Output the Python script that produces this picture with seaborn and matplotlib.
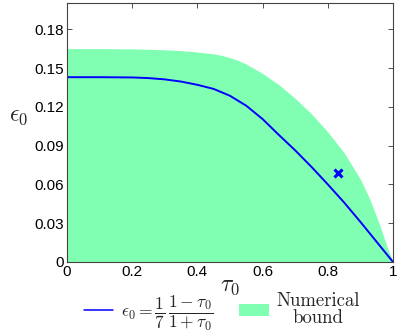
import matplotlib
matplotlib.use("Agg")
import matplotlib.pyplot as plt
import seaborn as sns
import numpy as np
import pandas as pd

# analytic curve
tau_line = [0, 0.1, 0.2, 0.25, 0.3, 0.35, 0.4, 0.45, 0.5, 0.55, 0.6, 0.65,
            0.7, 0.75, 0.8, 0.85, 0.9, 0.95, 1.0]
eps_line = [0.1429, 0.1429, 0.1427, 0.1422, 0.1412, 0.1395, 0.1370, 0.1338,
            0.1285, 0.1208, 0.1105, 0.0982, 0.0863, 0.0735, 0.0600, 0.0460,
            0.0310, 0.0155, 0.0]

# upper edge of the numerical bound region
tau_bound = [0, 0.1, 0.2, 0.25, 0.3, 0.35, 0.4, 0.45, 0.475, 0.5, 0.525, 0.55,
             0.6, 0.65, 0.7, 0.75, 0.8, 0.85, 0.9, 0.93, 0.96, 0.98, 1.0]
eps_bound = [0.1650, 0.1650, 0.1648, 0.1645, 0.1641, 0.1634, 0.1624, 0.1609,
             0.1597, 0.1580, 0.1558, 0.1530, 0.1458, 0.1370, 0.1265, 0.1145,
             0.1005, 0.0845, 0.0640, 0.0480, 0.0280, 0.0130, 0.0]

# single marked point
tau_pt = [0.83]
eps_pt = [0.0686]

xticks = [0, 0.2, 0.4, 0.6, 0.8, 1]
yticks = [0, 0.03, 0.06, 0.09, 0.12, 0.15, 0.18]

sns.set_style("ticks")
plt.rcParams['font.family'] = ['Liberation Sans', 'DejaVu Sans']
plt.rcParams['mathtext.fontset'] = 'cm'

fig = plt.figure(figsize=(3.99, 3.35), dpi=100)
ax = fig.add_axes([0.168, 0.218, 0.817, 0.772])

green = '#80ffb3'
ax.fill_between(tau_bound, 0, eps_bound, color=green, linewidth=0,
                label='Numerical\nbound')
df = pd.DataFrame({'tau': tau_line, 'eps': eps_line})
sns.lineplot(data=df, x='tau', y='eps', color='blue', linewidth=1.4, ax=ax,
             label=r'$\epsilon_0=\dfrac{1}{7}\,\dfrac{1-\tau_0}{1+\tau_0}$')
ax.plot(tau_pt, eps_pt, marker='x', color='blue', markersize=5.5,
        markeredgewidth=2.2, linestyle='none')

ax.set_xlim(0, 1)
ax.set_ylim(0, 0.2)
ax.set_xticks(xticks)
ax.set_xticklabels(['0', '0.2', '0.4', '0.6', '0.8', '1'])
ax.set_yticks(yticks)
ax.set_yticklabels(['0', '0.03', '0.06', '0.09', '0.12', '0.15', '0.18'])
ax.tick_params(direction='in', length=3.5, width=0.6, labelsize=11,
               top=True, right=True, pad=2, colors='#333333', labelcolor='black')
for s in ax.spines.values():
    s.set_visible(True)
    s.set_color('#444444')
    s.set_linewidth(0.8)

ax.set_xlabel(r'$\tau_0$', fontsize=17, labelpad=-3)
ax.set_ylabel(r'$\epsilon_0$', fontsize=17, rotation=0, labelpad=8)
ax.yaxis.set_label_coords(-0.15, 0.52)

handles, labels = ax.get_legend_handles_labels()
order = [1, 0]
leg = ax.legend([handles[i] for i in order], [labels[i] for i in order],
                loc='center', bbox_to_anchor=(0.475, -0.195), ncol=2,
                frameon=False, fontsize=12.5, handlelength=1.7,
                handletextpad=0.45, columnspacing=1.5)
leg.get_lines()[0].set_linewidth(1.1)
for t in leg.get_texts():
    if 'Numerical' in t.get_text():
        t.set_fontfamily('cmr10')
        t.set_fontsize(13.5)
        t.set_multialignment('center')
        t.set_linespacing(0.9)

fig.savefig('out.png', dpi=100)
